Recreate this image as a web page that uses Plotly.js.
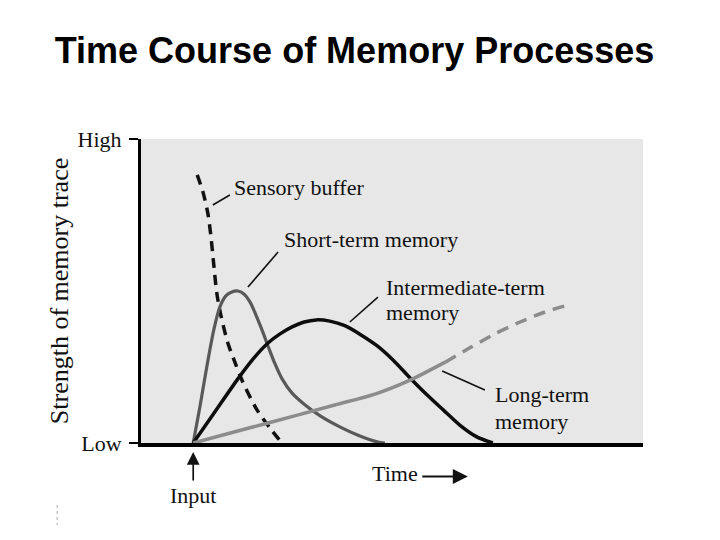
<!DOCTYPE html>
<html>
<head>
<meta charset="utf-8">
<script src="https://cdn.plot.ly/plotly-3.0.1.min.js"></script>
<style>html,body{margin:0;padding:0;background:#fff;}#chart{width:720px;height:540px;}</style>
</head>
<body>
<div id="chart"></div>
<script>
// Time (0-100, arbitrary units) and strength of memory trace (0 = Low, 100 = High)
const sensoryTime = [11.2, 12.4, 13.3, 13.9, 14.5, 15.1, 15.9, 17.3, 18.7, 20.1, 23.1, 25.7, 28.1];
const sensoryStrength = [88.2, 82.2, 75.7, 68.4, 58.6, 49.3, 42.1, 32.9, 26.6, 20.7, 10.9, 4.9, 0];

const shortTime = [10.4, 11.8, 13.1, 14.5, 15.7, 16.9, 18.1, 19.3, 20.5, 21.7, 22.9, 24.1, 25.3, 26.7, 28.1, 30.1, 32.7, 35.7, 39.6, 43.6, 47.2, 48.6];
const shortStrength = [0, 12.5, 25.0, 37.2, 44.7, 48.4, 49.7, 50.0, 49.0, 46.4, 42.1, 37.2, 31.9, 26.0, 21.1, 16.4, 12.5, 8.9, 5.3, 2.3, 0.3, 0];

const interTime = [10.4, 14.7, 19.3, 22.3, 25.3, 27.7, 30.1, 32.5, 34.9, 37.6, 40.6, 43.6, 47.0, 50.2, 53.6, 57.0, 60.2, 63.5, 66.9, 70.1];
const interStrength = [0, 10.2, 21.1, 27.6, 32.9, 35.9, 38.2, 39.8, 40.5, 40.1, 38.6, 35.8, 32.0, 27.3, 21.4, 15.8, 10.9, 5.9, 2.0, 0];

const longTime = [10.4, 25.3, 38.6, 46.6, 53.6, 60.6];
const longStrength = [0, 6.6, 12.5, 16.1, 20.7, 26.6];
const longFutureTime = [60.6, 65.5, 70.5, 75.5, 80.5, 84.5];
const longFutureStrength = [26.6, 31.3, 35.9, 39.8, 43.1, 45.1];

const tickValues = [0, 100];
const tickLabels = ["Low", "High"];

const serif = "Liberation Serif, Times New Roman, serif";

const traces = [
  {x: sensoryTime, y: sensoryStrength, mode: "lines", line: {color: "#111", width: 3.5, dash: "10px,7px", shape: "spline", smoothing: 0.8}},
  {x: shortTime, y: shortStrength, mode: "lines", line: {color: "#595959", width: 3.2, shape: "spline", smoothing: 0.8}},
  {x: interTime, y: interStrength, mode: "lines", line: {color: "#0d0d0d", width: 3.5, shape: "spline", smoothing: 0.8}},
  {x: longTime, y: longStrength, mode: "lines", line: {color: "#8c8c8c", width: 3.5, shape: "spline", smoothing: 0.8}},
  {x: longFutureTime, y: longFutureStrength, mode: "lines", line: {color: "#8c8c8c", width: 3.5, dash: "12px,8px", shape: "spline", smoothing: 0.8}}
];

function label(text, x, y, size) {
  return {text: text, x: x, y: y, xref: "x", yref: "y", xanchor: "left", yanchor: "middle",
          showarrow: false, font: {family: serif, size: size || 22, color: "#111"}};
}

const leaders = [
  [14.3, 78.3, 17.7, 81.6],
  [21.3, 51.3, 27.3, 62.8],
  [41.6, 39.8, 47.2, 48.0],
  [60.0, 23.7, 68.5, 17.4]
];

const shapes = leaders.map(l => ({type: "line", xref: "x", yref: "y", x0: l[0], y0: l[1], x1: l[2], y1: l[3],
  line: {color: "#111", width: 1.6}}));
shapes.push({type: "line", xref: "paper", yref: "paper", x0: -0.167, x1: -0.167, y0: -0.204, y1: -0.27,
  line: {color: "#aaa", width: 1, dash: "dot"}});

const annotations = [
  label("Sensory buffer", 18.1, 84.2),
  label("Short-term memory", 28.1, 66.8),
  label("Intermediate-term", 48.4, 51.3),
  label("memory", 48.4, 42.8),
  label("Long-term", 70.1, 15.8),
  label("memory", 70.1, 7.2),
  {text: "Time", x: 0.456, y: -0.099, xref: "paper", yref: "paper", xanchor: "left", yanchor: "middle",
   showarrow: false, font: {family: serif, size: 22, color: "#111"}},
  {text: "Input", x: 0.104, y: -0.174, xref: "paper", yref: "paper", xanchor: "center", yanchor: "middle",
   showarrow: false, font: {family: serif, size: 22, color: "#111"}},
  {text: "", x: 0.104, y: -0.03, xref: "paper", yref: "paper", showarrow: true, arrowhead: 2, arrowsize: 1.5,
   arrowwidth: 1.7, arrowcolor: "#111", ax: 0, ay: 30},
  {text: "", x: 0.651, y: -0.11, xref: "paper", yref: "paper", showarrow: true, arrowhead: 2, arrowsize: 1.5,
   arrowwidth: 2, arrowcolor: "#111", ax: -47, ay: 0},
  {text: "Strength of memory trace", xref: "paper", yref: "paper", x: -0.163, y: 0.5, textangle: -90,
   xanchor: "center", yanchor: "middle", showarrow: false, font: {family: serif, size: 26, color: "#111"}}
];

const layout = {
  width: 720, height: 540,
  margin: {l: 141, r: 77, t: 139, b: 97},
  paper_bgcolor: "#ffffff",
  plot_bgcolor: "#e7e7e7",
  showlegend: false,
  title: {text: "Time Course of Memory Processes", xref: "container", yref: "container",
          x: 0.4924, y: 0.907, xanchor: "center", yanchor: "middle",
          font: {family: "Liberation Sans, Arial, sans-serif", size: 36, color: "#000", weight: "bold"}},
  xaxis: {range: [0, 100], showgrid: false, zeroline: false, showline: true, linecolor: "#000", linewidth: 3.5,
          showticklabels: false, ticks: "", fixedrange: true},
  yaxis: {range: [0, 100], showgrid: false, zeroline: false, showline: true, linecolor: "#000", linewidth: 3,
          tickvals: tickValues, ticktext: tickLabels, ticks: "outside", ticklen: 9, tickwidth: 2.5, tickcolor: "#000",
          tickfont: {family: serif, size: 22, color: "#111"}, ticklabelstandoff: 3, fixedrange: true},
  shapes: shapes,
  annotations: annotations
};

Plotly.newPlot("chart", traces, layout, {displayModeBar: false, staticPlot: true});
</script>
</body>
</html>
